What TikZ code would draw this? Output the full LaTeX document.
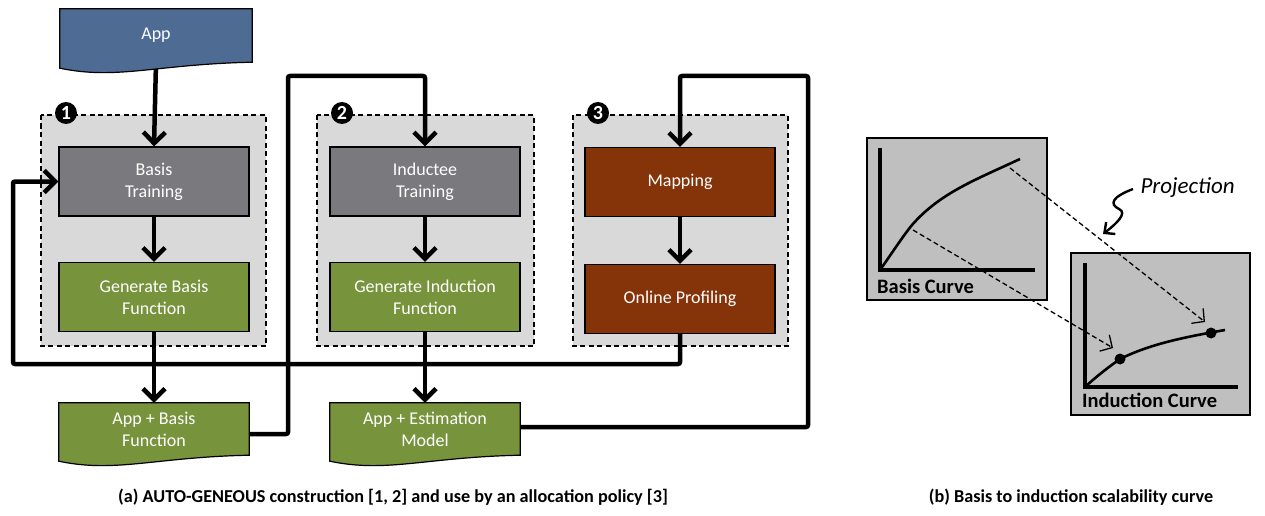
\documentclass[tikz,border=0pt]{standalone}
\usepackage{fontspec}
\setmainfont{Carlito}
\usetikzlibrary{calc,arrows.meta}
\pgfdeclarelayer{bg}
\pgfdeclarelayer{lines}
\pgfdeclarelayer{docs}
\pgfsetlayers{bg,lines,docs,main}
\definecolor{appblue}{HTML}{4E6B94}
\definecolor{procgray}{HTML}{7A7A7E}
\definecolor{grn}{HTML}{77933C}
\definecolor{brn}{HTML}{85340A}
\definecolor{grpgray}{HTML}{D9D9D9}
\definecolor{panelgray}{HTML}{BFBFBF}
\newcommand{\boxfont}{\fontsize{18}{22}\selectfont}
\newcommand{\capfont}{\fontsize{18.2}{21}\selectfont\bfseries}
\tikzstyle{procbox}=[draw=black, line width=1.2pt, minimum width=190pt, minimum height=69pt, inner sep=0pt, text=white, align=center, font=\boxfont]
\tikzstyle{docbox}=[minimum width=190pt, minimum height=52pt, inner sep=0pt, text=white, align=center, font=\boxfont]
\tikzstyle{grp}=[draw=black, fill=grpgray, line width=1.2pt, dash pattern=on 5pt off 3.5pt]
\tikzstyle{numcirc}=[circle, fill=black, text=white, inner sep=0pt, minimum size=22pt, font=\fontsize{20}{20}\selectfont\bfseries]
\tikzstyle{conn}=[line width=4.5pt, rounded corners=2pt]
\tikzstyle{flow}=[conn, -{Straight Barb[length=11pt,width=22pt]}]
\tikzstyle{panel}=[draw=black, fill=panelgray, line width=1.2pt]
\tikzstyle{axis}=[line width=3.5pt]
\tikzstyle{curve}=[line width=2.6pt]
\tikzstyle{proj}=[line width=1.3pt, dash pattern=on 5pt off 3pt, -{Straight Barb[length=9pt,width=19pt]}]
\tikzstyle{curvelbl}=[inner sep=0pt, font=\fontsize{20.5}{20.5}\selectfont\bfseries]
% dashed group with its number, Syntax: {top left}{bottom right}{number}
\newcommand{\grpbox}[3]{
	\draw[grp] (#1) rectangle (#2);
	\node[numcirc] (num#3) at ($(#1)+(25,-2)$) {#3};
}
% wavy bottom of a document node, Syntax: {node}{fill colour}
\newcommand{\docwave}[2]{
	\draw[line width=1.2pt, fill=#2] (#1.north west) -- (#1.north east) -- (#1.south east)
		.. controls ($(#1.south east)!0.5!(#1.south west)+(0,2)$) and ($(#1.south east)!0.7!(#1.south west)+(0,18)$)
		.. ($(#1.south west)+(0,6)$) -- cycle;
}

\begin{document}
\begin{tikzpicture}[x=1pt,y=-1pt]
\useasboundingbox (0,0) rectangle (1265,516);

\begin{pgfonlayer}{bg}
	\grpbox{41,115}{266,346}{1}
	\grpbox{317,115}{534,346}{2}
	\grpbox{573,115}{788,346}{3}
\end{pgfonlayer}

% (a) construction and use
\node[docbox, minimum width=192pt, minimum height=53pt] (app) at (156,35.5) {App};
\node[procbox, fill=procgray] (bt) at (154,181.5) {Basis\\Training};
\node[procbox, fill=grn] (gbf) at (154,297) {Generate Basis\\Function};
\node[procbox, fill=procgray] (it) at (425,181.5) {Inductee\\Training};
\node[procbox, fill=grn] (gif) at (425,297) {Generate Induction\\Function};
\node[procbox, fill=brn] (map) at (680,182) {Mapping};
\node[procbox, fill=brn] (op) at (680,299) {Online Profiling};
\node[docbox] (abf) at (154,429) {App + Basis\\Function};
\node[docbox] (aem) at (425,429) {App + Estimation\\Model};

\begin{pgfonlayer}{docs}
	\docwave{app}{appblue}
	\docwave{abf}{grn}
	\docwave{aem}{grn}
\end{pgfonlayer}

\coordinate (upA) at (288,76);
\coordinate (upB) at (808,76);
\coordinate (lowL) at (13,364);
\begin{pgfonlayer}{lines}
	\draw[flow] (app.south) -- (bt.north);
	\draw[flow] (bt) -- (gbf);
	\draw[flow] (gbf) -- (abf);
	\draw[flow] (it) -- (gif);
	\draw[flow] (gif) -- (aem);
	\draw[flow] (map) -- (op);
	\draw[flow] ([yshift=-5pt]abf.east) -| (upA) -| (it.north);
	\draw[flow] ([yshift=2pt]aem.east) -| (upB) -| (map.north);
	\draw[flow] (op.south) |- (lowL) |- (bt.west);
\end{pgfonlayer}

% (b) scalability curves
\draw[panel] (867,138) rectangle (1047,300);
\draw[axis] (880,148) -- (880,270) -- (1035,270);
\draw[curve] (880,270) .. controls (892,253) and (903,236) .. (912,225) .. controls (940,193) and (975,180) .. (1020,159);
\node[curvelbl, anchor=west] (blbl) at (877,286) {Basis Curve};

\draw[panel] (1071,253) rectangle (1250,415);
\draw[axis] (1085,263) -- (1085,387) -- (1238,387);
\coordinate (d1) at (1120,359);
\coordinate (d2) at (1211,333);
\draw[curve] (1085,387) .. controls (1098,375) and (1110,366) .. (d1) .. controls (1150,344) and (1185,337) .. (1225,330);
\fill (d1) circle (5.5pt);
\fill (d2) circle (5.5pt);
\node[curvelbl, anchor=west] (ilbl) at (1082,400) {Induction Curve};

\coordinate (s1) at (913,230);
\coordinate (s2) at (1010,168);
\draw[proj] (s1) -- (1113,348);
\draw[proj] (s2) -- (1205,322);

\node[font=\fontsize{23}{23}\selectfont\itshape, anchor=west] (projlbl) at (1137,188) {Projection};
\draw[line width=2.4pt, -{Straight Barb[length=8pt,width=15pt]}] (1133,189) .. controls (1112,197) and (1109,204) .. (1119,209) .. controls (1128,213) and (1116,224) .. (1103,234);

% captions
\node[font=\capfont] (capa) at (393,497) {(a) AUTO-GENEOUS construction [1, 2] and use by an allocation policy [3]};
\node[font=\capfont] (capb) at (1071,497) {(b) Basis to induction scalability curve};
\end{tikzpicture}
\end{document}
